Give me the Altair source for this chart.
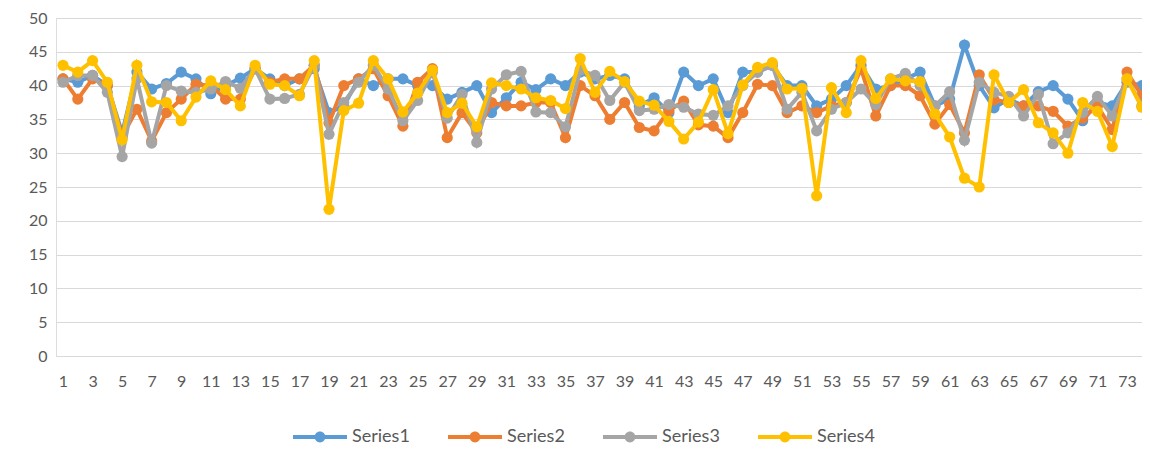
import altair as alt
import pandas as pd

idx = list(range(1, 75))

series1 = [41, 40.5, 41.5, 40, 33, 42, 39.5, 40.3, 42, 41,
           38.8, 40, 41.1, 42.5, 41, 40, 41, 42.5, 36, 37,
           41, 40, 41, 41, 40, 40, 38, 39, 40, 36,
           38.2, 40.5, 39.4, 41, 40, 42, 41, 41.5, 41, 37,
           38.2, 36, 42, 40, 41, 36, 42, 42, 43, 40,
           40, 37, 38, 40, 43, 39.5, 40, 41, 42, 37,
           38, 46, 40, 36.7, 38, 37, 39.1, 40, 38, 34.8,
           37.5, 37, 40.5, 40]
series2 = [41, 38, 41, 40, 32.5, 36.5, 31.8, 36, 38, 40.2,
           40, 38, 38, 42.5, 40.5, 41, 41, 43, 34.5, 40,
           41, 42.5, 38.5, 34, 40.5, 42.5, 32.3, 36, 33, 37.5,
           37, 37, 37.5, 37.5, 32.3, 40, 38.5, 35, 37.5, 33.8,
           33.3, 36.3, 37.7, 34.2, 34, 32.3, 36, 40.2, 40, 36,
           37, 36, 37, 37.5, 42.5, 35.5, 40, 40, 38.5, 34.3,
           37.2, 33, 41.6, 37.9, 37.5, 37, 37, 36.2, 34, 35.2,
           37, 33.5, 42, 38.5]
series3 = [40.5, 41.5, 41.5, 39, 29.5, 41, 31.5, 40, 39.2, 39,
           39.5, 40.6, 39.6, 42.5, 38, 38.1, 38.7, 43, 32.8, 37.5,
           40.5, 43, 39.5, 34.8, 37.8, 42, 35.2, 38.7, 31.6, 39.5,
           41.6, 42.1, 36.1, 36, 33.9, 42.3, 41.5, 37.8, 40.5, 36.3,
           36.5, 37.2, 36.8, 35.8, 35.6, 37, 40, 42, 43, 36.5,
           39, 33.3, 36.5, 37.5, 39.5, 37.2, 41, 41.8, 40, 37,
           39.1, 31.9, 40.5, 39, 38.4, 35.5, 38.7, 31.4, 33, 36,
           38.4, 35.5, 41, 37]
series4 = [43, 42, 43.7, 40.5, 32, 43, 37.6, 37.5, 34.8, 38.3,
           40.7, 39.4, 37, 43, 40.2, 40, 38.5, 43.7, 21.7, 36.3,
           37.4, 43.7, 41, 36.1, 38.9, 42.3, 36, 37.4, 33.9, 40.4,
           40, 39.5, 38.2, 37.8, 36.6, 44, 39, 42.1, 40.6, 37.7,
           37.1, 34.7, 32.1, 34.6, 39.4, 32.9, 40.1, 42.7, 43.4, 39.5,
           39.6, 23.7, 39.7, 36, 43.7, 38.1, 41, 40.7, 40.6, 35.8,
           32.4, 26.3, 25, 41.6, 37.5, 39.4, 34.5, 33, 30, 37.5,
           36.2, 31, 41, 36.8]

names = ["Series1", "Series2", "Series3", "Series4"]
colors = ["#5B9BD5", "#ED7D31", "#A5A5A5", "#FFC000"]
x_labels = list(range(1, 74, 2))
y_ticks = list(range(0, 51, 5))

rows = []
for name, vals in zip(names, [series1, series2, series3, series4]):
    for i, v in zip(idx, vals):
        rows.append({"i": i, "v": v, "series": name})
df = pd.DataFrame(rows)

FONT = "Lato"
LEG_PATH = ("M-1,-0.075 L1,-0.075 L1,0.075 L-1,0.075 Z "
            "M0.2,0 A0.2,0.2 0 1,1 -0.2,0 A0.2,0.2 0 1,1 0.2,0 Z")

x_enc = alt.X(
    "i:Q",
    scale=alt.Scale(domain=[0.5263, 74.014], nice=False, zero=False),
    axis=alt.Axis(values=x_labels, format="d", ticks=False, domain=False,
                  grid=False, labelFontSize=16, labelColor="#595959",
                  labelPadding=17, labelFlush=False, labelOverlap=False,
                  labelFont=FONT, title=None),
)
y_enc = alt.Y(
    "v:Q",
    scale=alt.Scale(domain=[0, 50], nice=False),
    axis=alt.Axis(values=y_ticks, ticks=False, domain=False,
                  gridColor="#D9D9D9", gridWidth=1, labelFontSize=16,
                  labelColor="#595959", labelPadding=9, labelFont=FONT,
                  title=None),
)
color_scale = alt.Scale(domain=names, range=colors)
legend = alt.Legend(
    orient="none", legendX=237, legendY=392,
    direction="horizontal", columns=4, title=None,
    symbolType=LEG_PATH, symbolSize=2916, symbolStrokeWidth=0,
    labelFontSize=18, labelColor="#595959", labelFont=FONT,
    labelOffset=5, columnPadding=38,
)

base = alt.Chart(df)
layers = []
for name, col in zip(names, colors):
    sub = base.transform_filter(alt.datum.series == name)
    line = sub.mark_line(strokeWidth=4, color=col).encode(x=x_enc, y=y_enc)
    pts = sub.mark_circle(size=125, opacity=1).encode(
        x=x_enc, y=y_enc,
        color=alt.Color("series:N", scale=color_scale, legend=legend),
    )
    layers += [line, pts]

chart = alt.layer(*layers).properties(
    width=1086, height=338,
    padding={"left": 48, "top": 10, "right": 0, "bottom": 91},
    autosize=alt.AutoSizeParams(type="none"),
).configure_view(stroke=None).configure(font=FONT)

chart.save("out.html", embed_options={"renderer": "svg", "actions": False})
